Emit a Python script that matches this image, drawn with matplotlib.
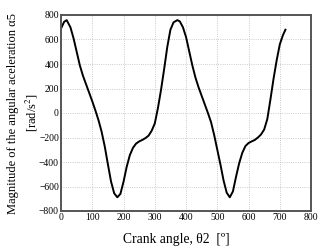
import matplotlib
matplotlib.use("Agg")
import matplotlib.pyplot as plt

crank_angle = [0, 10, 18, 30, 40, 50, 60, 70, 80, 90, 100, 110, 120, 130, 140, 150,
               160, 170, 180, 190, 200, 210, 220, 230, 240, 250, 260, 270, 280, 290,
               300, 310, 320, 330, 340, 350, 360, 372,
               380, 390, 400, 410, 420, 430, 440, 450, 460, 470, 480, 490, 500, 510,
               520, 530, 540, 550, 560, 570, 580, 590, 600, 610, 620, 630, 640, 650,
               660, 670, 680, 690, 700, 710, 718]
alpha5 = [690, 745, 758, 700, 610, 500, 390, 305, 235, 165, 95, 20, -60, -155, -275, -420,
          -560, -655, -688, -660, -560, -440, -345, -285, -250, -232, -220, -205, -185, -145,
          -85, 40, 190, 360, 540, 680, 740, 758,
          748, 700, 620, 505, 390, 290, 210, 140, 70, 0, -75, -180, -300, -420,
          -550, -650, -688, -640, -520, -410, -325, -270, -245, -232, -220, -200, -175, -135,
          -50, 110, 280, 430, 560, 635, 680]

x_ticks = [0, 100, 200, 300, 400, 500, 600, 700, 800]
y_ticks = [-800, -600, -400, -200, 0, 200, 400, 600, 800]

plt.rcParams['font.family'] = ['Liberation Serif', 'DejaVu Serif']
plt.rcParams['mathtext.fontset'] = 'stix'

fig = plt.figure(figsize=(3.23, 2.5), dpi=100)
ax = fig.add_axes([0.189, 0.156, 0.774, 0.784])
ax.plot(crank_angle, alpha5, color='black', lw=1.4, solid_joinstyle='round')
ax.set_xlim(0, 800)
ax.set_ylim(-800, 800)
ax.set_xticks(x_ticks)
ax.set_yticks(y_ticks)
ax.tick_params(labelsize=6.9, length=0, pad=1.5)
ax.grid(True, color='#bbbbbb', linestyle=':', linewidth=0.6)
for s in ax.spines.values():
    s.set_color('#555555')
    s.set_linewidth(1.4)

ax.set_xlabel('Crank angle, θ2  [º]', fontsize=9.8)
ax.xaxis.set_label_coords(0.46, -0.11)
ax.set_ylabel('Magnitude of the angular aceleration α5\n[rad/s$^2$]', fontsize=9.0,
              linespacing=1.4)
ax.yaxis.set_label_coords(-0.085, 0.5)

fig.savefig('out.png', dpi=100)
